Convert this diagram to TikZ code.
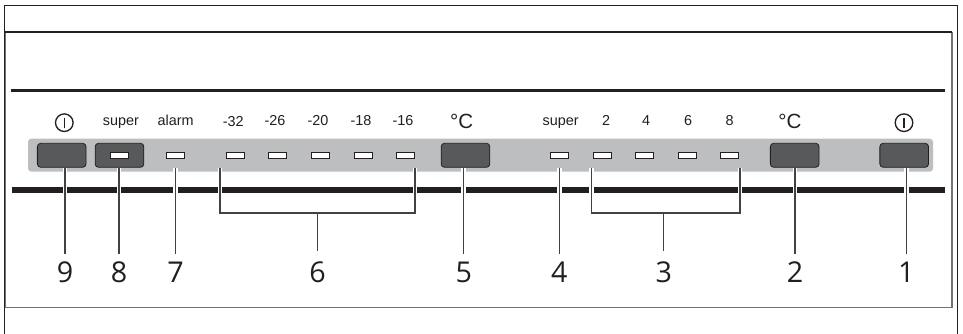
\documentclass[tikz,border=0pt]{standalone}
\usepackage{fontspec}
\setmainfont{Liberation Sans}
\newfontfamily\numfont{Open Sans}
\definecolor{panelgrey}{HTML}{BCBEC0}
\definecolor{btngrey}{HTML}{58595B}
\definecolor{inkblack}{HTML}{231F20}
\tikzset{
  x=0.75pt,y=-0.75pt,
  panelbtn/.style={draw=inkblack,fill=btngrey,line width=0.6pt,rounded corners=2.5pt,minimum width=36.5pt,minimum height=18pt,inner sep=0pt},
  led/.style={draw=inkblack,fill=white,line width=0.6pt,minimum width=13.5pt,minimum height=4.6pt,inner sep=0pt},
  smallcap/.style={font=\fontsize{10.8}{13}\selectfont,text=inkblack,inner sep=0pt,anchor=base},
  bigcap/.style={font=\fontsize{15.4}{18}\selectfont,text=inkblack,inner sep=0pt,anchor=base},
  num/.style={font=\numfont\fontsize{21.5}{24}\selectfont,text=inkblack,inner sep=0pt,anchor=base},
  halo/.style={draw=white,line width=3.6pt},
  leader/.style={draw=inkblack!85,line width=0.8pt},
  powersym/.style={draw=inkblack,fill=white,circle,line width=1pt,minimum size=13.2pt,inner sep=0pt},
}
\begin{document}
\begin{tikzpicture}
\useasboundingbox (0,0) rectangle (963,334);
\fill[white] (0,0) rectangle (963,334);
% frames
\draw[inkblack,line width=0.9pt] (4.5,334) -- (4.5,5.5) -- (957.5,5.5) -- (957.5,334);
\draw[black!55,line width=1.2pt] (5.5,32.5) -- (5.5,307.5) -- (952,307.5) -- (952,32.5);
\draw[inkblack,line width=0.9pt] (4.5,32) -- (952,32);
% rules
\draw[inkblack,line width=1.9pt] (11,90.7) -- (944.7,90.7);
\draw[inkblack,line width=3.8pt] (12,190) -- (944.7,190);
% panel
\fill[panelgrey,rounded corners=2.5pt] (28,138.7) rectangle (933,171.7);
% buttons
\node[panelbtn] (b9) at (61.7,155.3) {};
\node[panelbtn] (b8) at (119.5,155.3) {};
\node[panelbtn] (b5) at (465.5,155.3) {};
\node[panelbtn] (b2) at (794.7,155.3) {};
\node[panelbtn] (b1) at (904.2,155.3) {};
% LEDs
\foreach \n/\x in {l8/119.7,l7/175.7,m32/235.7,m26/277.7,m20/320.3,m18/363.3,m16/405.3,l4/559.7,p2/602.3,p4/644.5,p6/687.3,p8/729.7}
  \node[led] (\n) at (\x,155.7) {};
% captions
\node[powersym] (pw9) at (64.3,122.7) {};
\draw[inkblack,line width=1pt] (pw9.center) ++(0,-5) -- ++(0,10);
\node[smallcap] (c8) at (121,126) {super};
\node[smallcap] (c7) at (175.7,126) {alarm};
\node[smallcap] (c32) at (233.3,126.8) {-32};
\node[smallcap] (c26) at (275,126) {-26};
\node[smallcap] (c20) at (318,126) {-20};
\node[smallcap] (c18) at (361,126) {-18};
\node[smallcap] (c16) at (403,126) {-16};
\node[bigcap] (c5) at (461.7,128.5) {°C};
\node[smallcap] (c4) at (560.7,126) {super};
\node[smallcap] (c2) at (606,126) {2};
\node[smallcap] (c44) at (646,126) {4};
\node[smallcap] (c6) at (688,126) {6};
\node[smallcap] (c88) at (729.7,126) {8};
\node[bigcap] (c22) at (790,128.5) {°C};
\node[powersym] (pw1) at (904,122.7) {};
\draw[inkblack,line width=1pt] (pw1.center) ++(0,-5) -- ++(0,10);
% number labels
\node[num] (n9) at (65,283) {9};
\node[num] (n8) at (119,283) {8};
\node[num] (n7) at (175.5,283) {7};
\node[num] (n6) at (317.5,283) {6};
\node[num] (n5) at (463.7,283) {5};
\node[num] (n4) at (559.3,283) {4};
\node[num] (n3) at (663.7,283) {3};
\node[num] (n2) at (795,283) {2};
\node[num] (n1) at (906.3,283) {1};
% leader start points
\foreach \n/\x in {s9/65,s8/119,s7/175.5,s5/463.7,s4/559.3,s2/795,s1/906.3}
  \coordinate (\n) at (\x,168);
\foreach \n in {9,8,7,5,4,2,1} {
  \draw[halo] (s\n) -- (s\n |- 0,199);
  \draw[leader,shorten >=6pt] (s\n) -- (s\n |- n\n.north);
}
% brackets
\coordinate (ba) at (220,168);
\coordinate (bb) at (415,168);
\coordinate (bc) at (591.7,168);
\coordinate (bd) at (740,168);
\foreach \n in {ba,bb,bc,bd} \draw[halo] (\n) -- (\n |- 0,199);
\draw[leader] (ba) -- (ba |- 0,213) -- (bb |- 0,213) -- (bb);
\draw[leader,shorten >=8.25pt] (n6.north |- 0,213) -- (n6.north);
\draw[leader] (bc) -- (bc |- 0,213) -- (bd |- 0,213) -- (bd);
\draw[leader,shorten >=8.25pt] (n3.north |- 0,213) -- (n3.north);
\end{tikzpicture}
\end{document}
